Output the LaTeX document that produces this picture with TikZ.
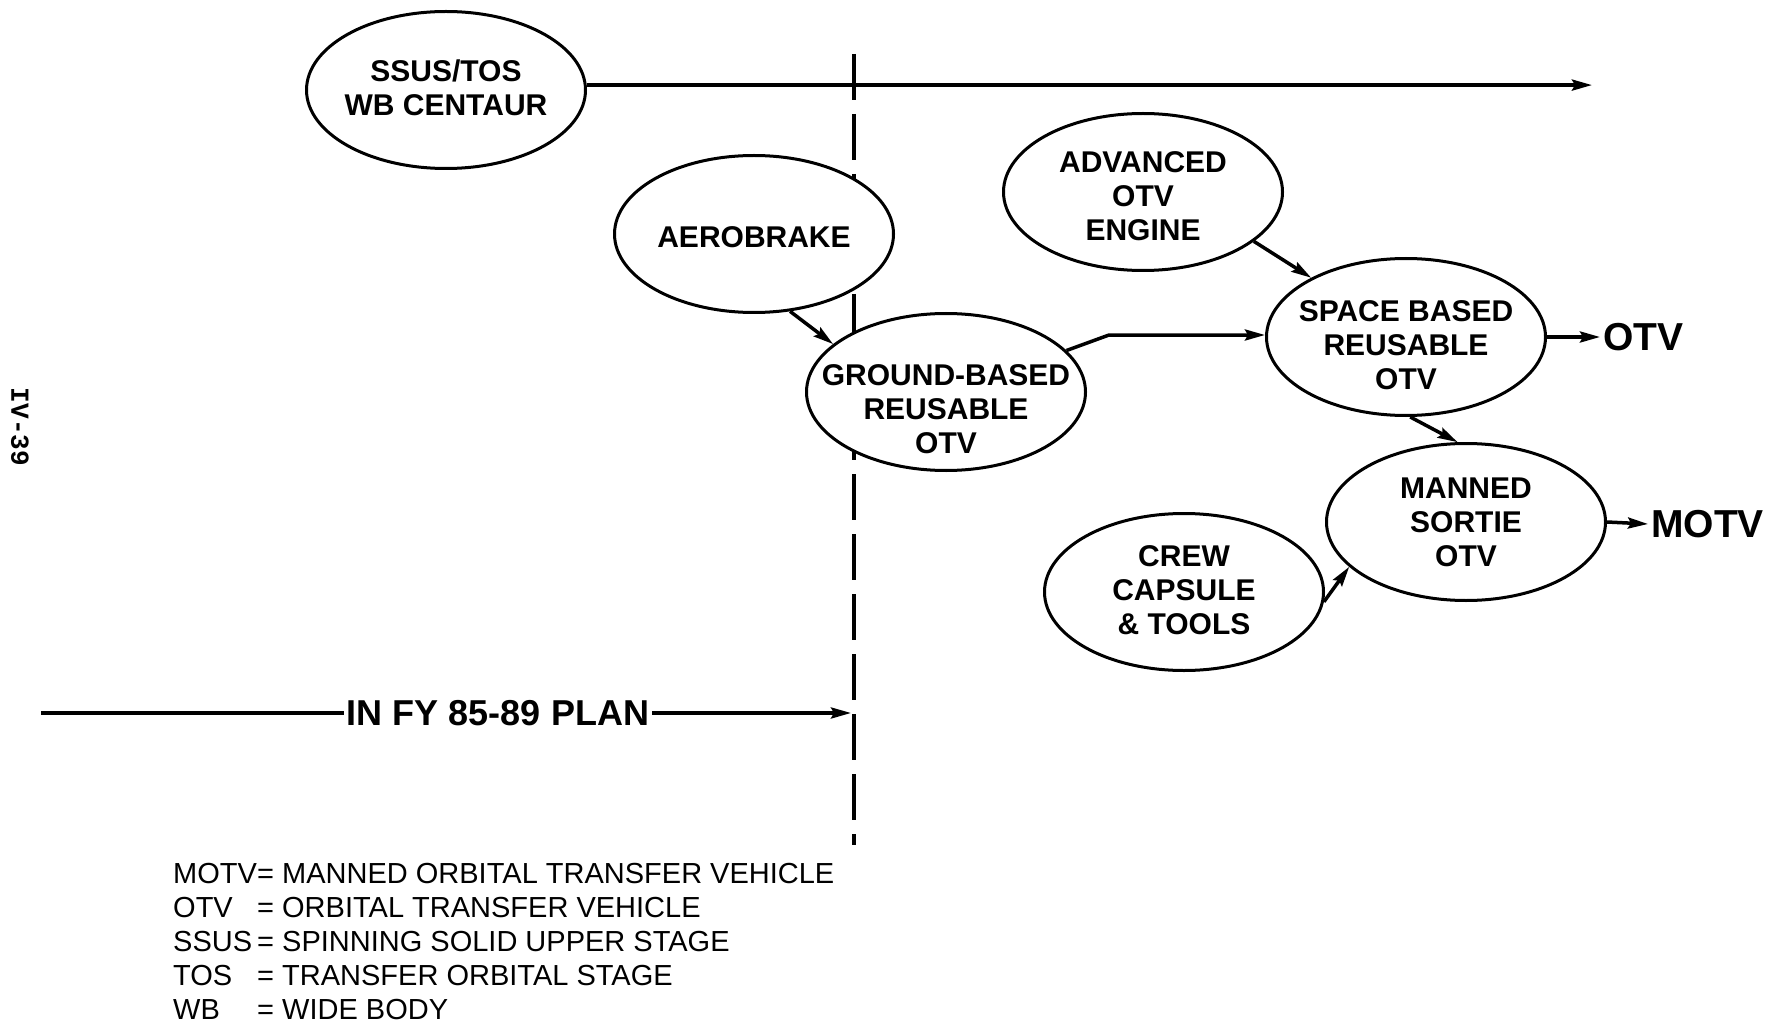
\documentclass[tikz,border=0pt]{standalone}
\usepackage{fontspec}
\setmainfont{Liberation Sans}
\setmonofont{Liberation Mono}
\usetikzlibrary{arrows.meta,shapes.geometric}
\begin{document}
\begin{tikzpicture}[x=1pt,y=-1pt,
  oval/.style={ellipse,draw,fill=white,line width=3pt,inner sep=0pt,minimum width=279pt,minimum height=157pt},
  lbl/.style={align=center,font=\fontsize{30}{34}\selectfont\bfseries},
  conn/.style={line width=3.5pt},
  arr/.style={line width=3.5pt,-{Stealth[length=20pt,width=11pt,inset=3pt]}},
  big/.style={font=\fontsize{39}{40}\selectfont\bfseries,inner sep=3pt,anchor=west},
  legend/.style={font=\fontsize{29}{30}\selectfont,anchor=west,inner sep=0pt},
]
\useasboundingbox[fill=white] (0,0) rectangle (1775,1024);

% dashed boundary (behind the ellipses)
\coordinate (dtop) at (854,54);
\coordinate (dbot) at (854,845);
\draw[line width=4pt,dash pattern=on 46pt off 14pt] (dtop) -- (dbot);

% ellipses
\node[oval] (ssus) at (446,90) {};
\node[oval] (aero) at (754,234) {};
\node[oval] (adv) at (1143,192) {};
\node[oval] (gb) at (946,392) {};
\node[oval] (sb) at (1406,337) {};
\node[oval] (ms) at (1466,522) {};
\node[oval] (crew) at (1184,592) {};

\node[lbl] (ssust) at (446,88) {SSUS/TOS\\WB CENTAUR};
\node[lbl] (aerot) at (754,237) {AEROBRAKE};
\node[lbl] (advt) at (1143,196) {ADVANCED\\OTV\\ENGINE};
\node[lbl] (gbt) at (946,409) {GROUND-BASED\\REUSABLE\\OTV};
\node[lbl] (sbt) at (1406,345) {SPACE BASED\\REUSABLE\\OTV};
\node[lbl] (mst) at (1466,522) {MANNED\\SORTIE\\OTV};
\node[lbl] (crewt) at (1184,590) {CREW\\CAPSULE\\\& TOOLS};

% outputs
\node[big] (otv) at (1600,337) {OTV};
\node[big] (motv) at (1648,524) {MOTV};

% top arrow
\coordinate (topend) at (1592,86);
\draw[arr] (ssus.2) -- (ssus.2 -| topend);

% connectors
\draw[arr] (aero.-65) -- (gb.157);
\draw[arr] (adv.-24) -- (sb.148);
\coordinate (gbbend) at (1109,335);
\draw[arr] (gb.19) -- (gbbend) -- (sb.west |- gbbend);
\draw[arr] (sb.east) -- (otv.west);
\draw[arr] (sb.-87) -- (ms.96);
\draw[arr] (ms.east) -- (motv.west);
\draw[arr] (crew.-4) -- (ms.201);

% plan line
\node[font=\fontsize{36}{38}\selectfont\bfseries,inner sep=3pt] (fy) at (498,713) {IN FY 85-89 PLAN};
\coordinate (fystart) at (41,713);
\coordinate (fyend) at (851,713);
\draw[conn] (fystart) -- (fy.west);
\draw[arr] (fy.east) -- (fyend);

% page number
\node[font=\fontsize{26}{28}\selectfont\ttfamily\bfseries,rotate=-90] (page) at (20,427) {IV-39};

% legend
\node[legend] (l1) at (173,874) {\makebox[84pt][l]{MOTV}= MANNED ORBITAL TRANSFER VEHICLE};
\node[legend] (l2) at (173,908) {\makebox[84pt][l]{OTV}= ORBITAL TRANSFER VEHICLE};
\node[legend] (l3) at (173,942) {\makebox[84pt][l]{SSUS}= SPINNING SOLID UPPER STAGE};
\node[legend] (l4) at (173,976) {\makebox[84pt][l]{TOS}= TRANSFER ORBITAL STAGE};
\node[legend] (l5) at (173,1010) {\makebox[84pt][l]{WB}= WIDE BODY};
\end{tikzpicture}
\end{document}
